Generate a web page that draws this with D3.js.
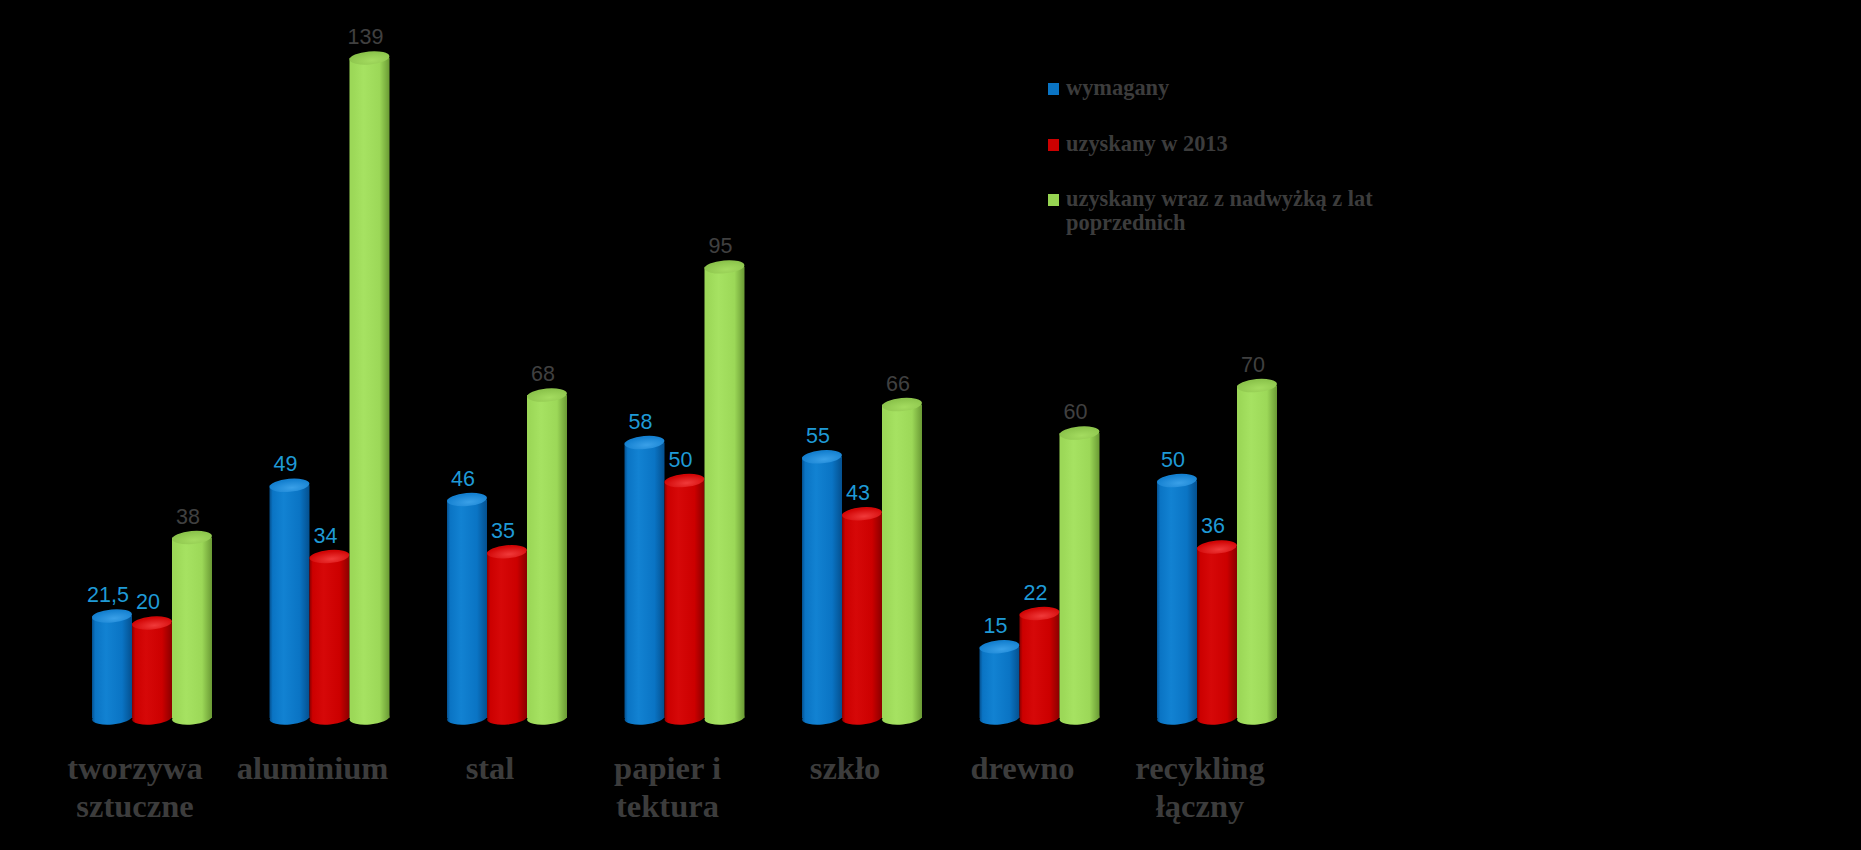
<!DOCTYPE html>
<html>
<head>
<meta charset="utf-8">
<script src="https://cdn.jsdelivr.net/npm/d3@7"></script>
<style>
  html, body { margin: 0; padding: 0; background: #000; }
  svg { display: block; }
</style>
</head>
<body>
<svg id="chart" width="1861" height="850"></svg>
<script>
// ---- data ----
const categories = ["tworzywa\nsztuczne", "aluminium", "stal", "papier i\ntektura", "szkło", "drewno", "recykling\nłączny"];
const seriesNames = ["wymagany", "uzyskany w 2013", "uzyskany wraz z nadwyżką z lat poprzednich"];
const wymagany = [21.5, 49, 46, 58, 55, 15, 50];
const uzyskany2013 = [20, 34, 35, 50, 43, 22, 36];
const uzyskanyNadwyzka = [38, 139, 68, 95, 66, 60, 70];
const seriesValues = [wymagany, uzyskany2013, uzyskanyNadwyzka];

// ---- styles ----
const baseColors = [
  { dark: "#04508f", mid: "#0a74c4", light: "#1282d2", top: "#1480d0", hi: "#3aa0e8" },
  { dark: "#8a0000", mid: "#cc0000", light: "#d60808", top: "#d20606", hi: "#f03a3a" },
  { dark: "#6a9a34", mid: "#9cd858", light: "#a6e262", top: "#8cc44c", hi: "#a4dc60" }
];
const legendSwatch = ["#0a74c4", "#cc0000", "#96d452"];
const labelColors = ["#1f9ad6", "#1f9ad6", "#404040"];
const textGray = "#3c3c3c";

const svg = d3.select("#chart");
const defs = svg.append("defs");

baseColors.forEach((c, i) => {
  const g = defs.append("linearGradient").attr("id", "body" + i)
    .attr("x1", "0%").attr("x2", "100%").attr("y1", "0%").attr("y2", "0%");
  g.append("stop").attr("offset", "0%").attr("stop-color", i === 2 ? c.mid : c.dark);
  g.append("stop").attr("offset", "8%").attr("stop-color", c.mid);
  g.append("stop").attr("offset", "35%").attr("stop-color", c.light);
  g.append("stop").attr("offset", "75%").attr("stop-color", c.mid);
  g.append("stop").attr("offset", "100%").attr("stop-color", c.dark);
  const r = defs.append("radialGradient").attr("id", "top" + i)
    .attr("cx", "55%").attr("cy", "70%").attr("r", "60%");
  r.append("stop").attr("offset", "0%").attr("stop-color", c.hi);
  r.append("stop").attr("offset", "100%").attr("stop-color", c.top);
});

// scales
const x0 = d3.scaleBand().domain(d3.range(categories.length))
  .range([63.25, 1305.75]).paddingInner(0.324).paddingOuter(0.162);
const x1 = d3.scaleBand().domain(d3.range(seriesNames.length))
  .range([0, x0.bandwidth()]).padding(0);
const y = d3.scaleLinear().domain([0, 150]).range([718, 5.7]);

const ry = 6.5, tilt = -5;
const fmt = v => String(v).replace(".", ",");

const bars = [];
categories.forEach((cat, ci) => {
  seriesValues.forEach((vals, si) => {
    bars.push({ ci, si, v: vals[ci] });
  });
});

const bw = x1.bandwidth();
const gBar = svg.append("g").selectAll("g.bar").data(bars).join("g").attr("class", "bar")
  .attr("transform", d => `translate(${x0(d.ci) + x1(d.si)},0)`);

gBar.append("ellipse")
  .attr("cx", bw / 2).attr("cy", y(0)).attr("rx", bw / 2).attr("ry", ry)
  .attr("transform", `rotate(${tilt},${bw / 2},${y(0)})`)
  .attr("fill", d => `url(#body${d.si})`);
gBar.append("rect")
  .attr("x", 0).attr("width", bw)
  .attr("y", d => y(d.v)).attr("height", d => y(0) - y(d.v))
  .attr("fill", d => `url(#body${d.si})`);
gBar.append("ellipse")
  .attr("cx", bw / 2).attr("cy", d => y(d.v)).attr("rx", bw / 2).attr("ry", ry)
  .attr("transform", d => `rotate(${tilt},${bw / 2},${y(d.v)})`)
  .attr("fill", d => `url(#top${d.si})`);

// value labels
svg.append("g").selectAll("text").data(bars).join("text")
  .attr("x", d => x0(d.ci) + x1(d.si) + bw / 2 - 4)
  .attr("y", d => y(d.v) - 14)
  .attr("text-anchor", "middle")
  .attr("font-family", "'Liberation Sans', Arial, sans-serif")
  .attr("font-size", 21.5)
  .attr("fill", d => labelColors[d.si])
  .text(d => fmt(d.v));

// category labels
const catFont = "'Liberation Serif', 'Times New Roman', serif";
const labelDx = -17;
const catG = svg.append("g");
categories.forEach((cat, ci) => {
  const t = catG.append("text")
    .attr("text-anchor", "middle")
    .attr("font-family", catFont)
    .attr("font-weight", "bold")
    .attr("font-size", 32.5)
    .attr("fill", textGray);
  cat.split("\n").forEach((line, li) => {
    t.append("tspan")
      .attr("x", x0(ci) + x0.bandwidth() / 2 + labelDx)
      .attr("y", 779 + li * 38)
      .text(line);
  });
});

// legend
const legend = svg.append("g").attr("transform", "translate(1048,0)");
const legendRowY = [95, 151, 206];
const maxW = 330;
seriesNames.forEach((name, i) => {
  const row = legend.append("g");
  row.append("rect").attr("x", 0).attr("y", legendRowY[i] - 12)
    .attr("width", 11).attr("height", 12).attr("fill", legendSwatch[i]);
  const t = row.append("text")
    .attr("font-family", catFont).attr("font-weight", "bold")
    .attr("font-size", 22.4).attr("fill", textGray);
  const words = name.split(" ");
  let line = [], li = 0;
  let tspan = t.append("tspan").attr("x", 18).attr("y", legendRowY[i]);
  words.forEach(w => {
    line.push(w);
    tspan.text(line.join(" "));
    if (tspan.node().getComputedTextLength() > maxW && line.length > 1) {
      line.pop();
      tspan.text(line.join(" "));
      line = [w];
      li++;
      tspan = t.append("tspan").attr("x", 18).attr("y", legendRowY[i] + li * 24).text(w);
    }
  });
});
</script>
</body>
</html>
